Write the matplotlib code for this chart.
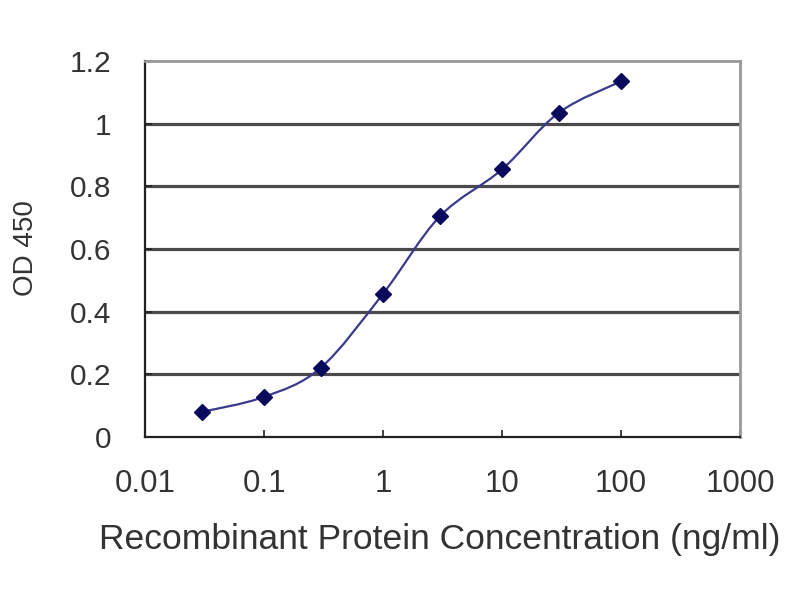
import numpy as np
import matplotlib
matplotlib.use("Agg")
import matplotlib.pyplot as plt
from matplotlib.path import Path
from matplotlib.patches import PathPatch

plt.rcParams["font.family"] = ["Liberation Sans", "DejaVu Sans"]

# Data
concentration = [0.03, 0.1, 0.3, 1, 3, 10, 30, 100]
od450 = [0.080, 0.128, 0.221, 0.457, 0.704, 0.854, 1.035, 1.135]
x_ticks = [0.01, 0.1, 1, 10, 100, 1000]
x_tick_labels = ["0.01", "0.1", "1", "10", "100", "1000"]
y_ticks = [0, 0.2, 0.4, 0.6, 0.8, 1.0, 1.2]
y_tick_labels = ["0", "0.2", "0.4", "0.6", "0.8", "1", "1.2"]

line_color = "#3a3a8c"
marker_color = "#0a0a5c"

fig = plt.figure(figsize=(8.0, 6.0), dpi=100)
ax = fig.add_axes([145 / 800, 1 - 437 / 600, 595 / 800, 376 / 600])
ax.set_xscale("log")
ax.set_xlim(0.01, 1000)
ax.set_ylim(0, 1.2)

# Gridlines like the Excel plot area
for y in y_ticks[1:-1]:
    ax.axhline(y, color="#4a4a4a", lw=2.3, zorder=1)

# Smoothed line (Excel-style), Bezier control points in log-x space
lx = np.log10(concentration)
ly = np.array(od450)
pts = np.column_stack([lx, ly])
verts = [pts[0]]
codes = [Path.MOVETO]
n = len(pts)
for i in range(n - 1):
    p_prev = pts[i - 1] if i > 0 else pts[i]
    p_next2 = pts[i + 2] if i + 2 < n else pts[i + 1]
    c1 = pts[i] + (pts[i + 1] - p_prev) / 6
    c2 = pts[i + 1] - (p_next2 - pts[i]) / 6
    verts += [c1, c2, pts[i + 1]]
    codes += [Path.CURVE4] * 3
verts = np.array(verts)
verts[:, 0] = 10 ** verts[:, 0]
ax.add_patch(PathPatch(Path(verts, codes), fill=False, edgecolor=line_color,
                       lw=1.6, zorder=3))

ax.plot(concentration, od450, linestyle="none", marker="D", markersize=8,
        color=marker_color, zorder=4)

ax.set_xticks(x_ticks)
ax.set_xticklabels(x_tick_labels)
ax.set_yticks(y_ticks)
ax.set_yticklabels(y_tick_labels)
ax.minorticks_off()
ax.tick_params(axis="both", direction="in", length=5, width=1.2,
               colors="#222222", labelcolor="#333333")
ax.tick_params(axis="x", pad=23, labelsize=22.5)
ax.tick_params(axis="y", pad=24, labelsize=21.5)

for side in ("left", "bottom"):
    ax.spines[side].set_color("#222222")
    ax.spines[side].set_linewidth(1.6)
for side in ("top", "right"):
    ax.spines[side].set_color("#999999")
    ax.spines[side].set_linewidth(2.0)

fig.text(440 / 800, 1 - 540 / 600,
         "Recombinant Protein Concentration (ng/ml)",
         ha="center", va="center", fontsize=25.5, color="#333333")
fig.text(26 / 800, 1 - 248 / 600, "OD 450", rotation=90,
         ha="center", va="center", fontsize=20, color="#333333")

fig.savefig("out.png", dpi=100)
